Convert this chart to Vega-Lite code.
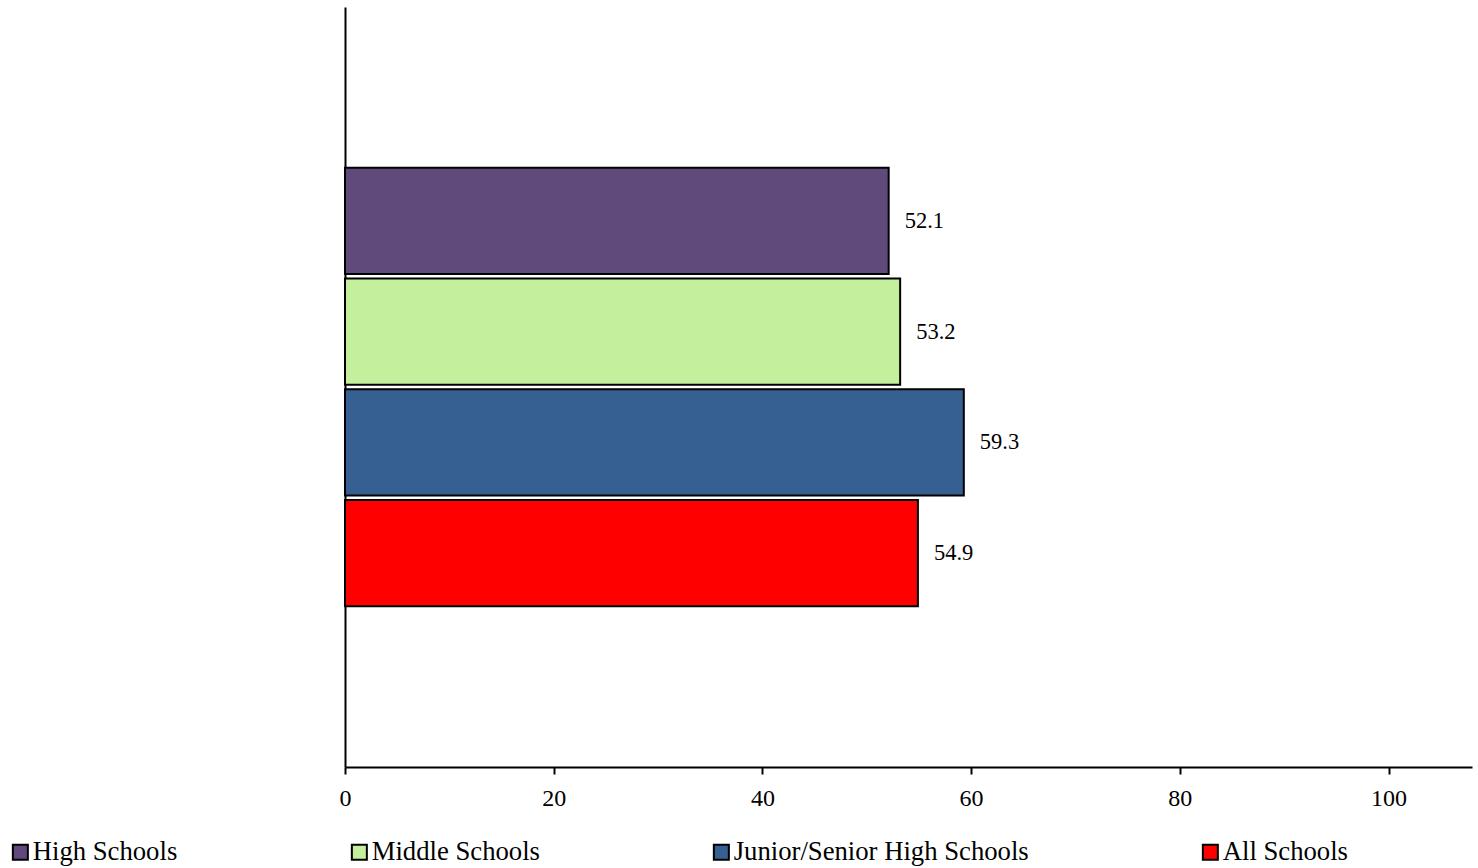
{
  "$schema": "https://vega.github.io/schema/vega-lite/v6.json",
  "autosize": "none",
  "padding": {"left": 345, "top": 7, "right": 6, "bottom": 101},
  "width": 1127,
  "height": 760,
  "background": "white",
  "config": {"view": {"stroke": null}, "font": "Liberation Serif"},
  "data": {"values": [
    {"school": "High Schools", "value": 52.1},
    {"school": "Middle Schools", "value": 53.2},
    {"school": "Junior/Senior High Schools", "value": 59.3},
    {"school": "All Schools", "value": 54.9}
  ]},
  "encoding": {
    "y": {
      "field": "school", "type": "nominal",
      "scale": {"domain": [" ", "High Schools", "Middle Schools", "Junior/Senior High Schools", "All Schools", "  "], "paddingInner": 0.04, "paddingOuter": 0.452},
      "axis": {"title": null, "labels": false, "ticks": false, "domainColor": "black", "domainWidth": 2}
    },
    "x": {
      "field": "value", "type": "quantitative",
      "scale": {"domain": [0, 108], "nice": false},
      "axis": {"title": null, "values": [0, 20, 40, 60, 80, 100], "grid": false, "labelFlush": false,
        "domainColor": "black", "domainWidth": 2, "tickColor": "black", "tickWidth": 2, "tickSize": 7,
        "labelFont": "Liberation Serif", "labelFontSize": 24, "labelColor": "black", "labelPadding": 12}
    }
  },
  "layer": [
    {
      "mark": {"type": "bar", "stroke": "black", "strokeWidth": 2},
      "encoding": {
        "color": {
          "field": "school", "type": "nominal",
          "scale": {"domain": ["High Schools", "Middle Schools", "Junior/Senior High Schools", "All Schools"],
                    "range": ["#604A7B", "#C4EF9C", "#376092", "#FF0000"]},
          "legend": {
            "title": null, "orient": "none", "legendX": -338, "legendY": 832,
            "direction": "horizontal", "columns": 4, "gridAlign": "none", "columnPadding": 168,
            "symbolType": "square", "symbolSize": 225, "symbolStrokeColor": "black", "symbolStrokeWidth": 2,
            "symbolOpacity": 1,
            "labelFont": "Liberation Serif", "labelFontSize": 26.7, "labelColor": "black", "labelOffset": -1, "labelLimit": 400
          }
        }
      }
    },
    {
      "mark": {"type": "text", "align": "left", "dx": 16, "font": "Liberation Serif", "fontSize": 22.5, "color": "black"},
      "encoding": {"text": {"field": "value", "type": "quantitative", "format": ".1f"}}
    }
  ]
}
